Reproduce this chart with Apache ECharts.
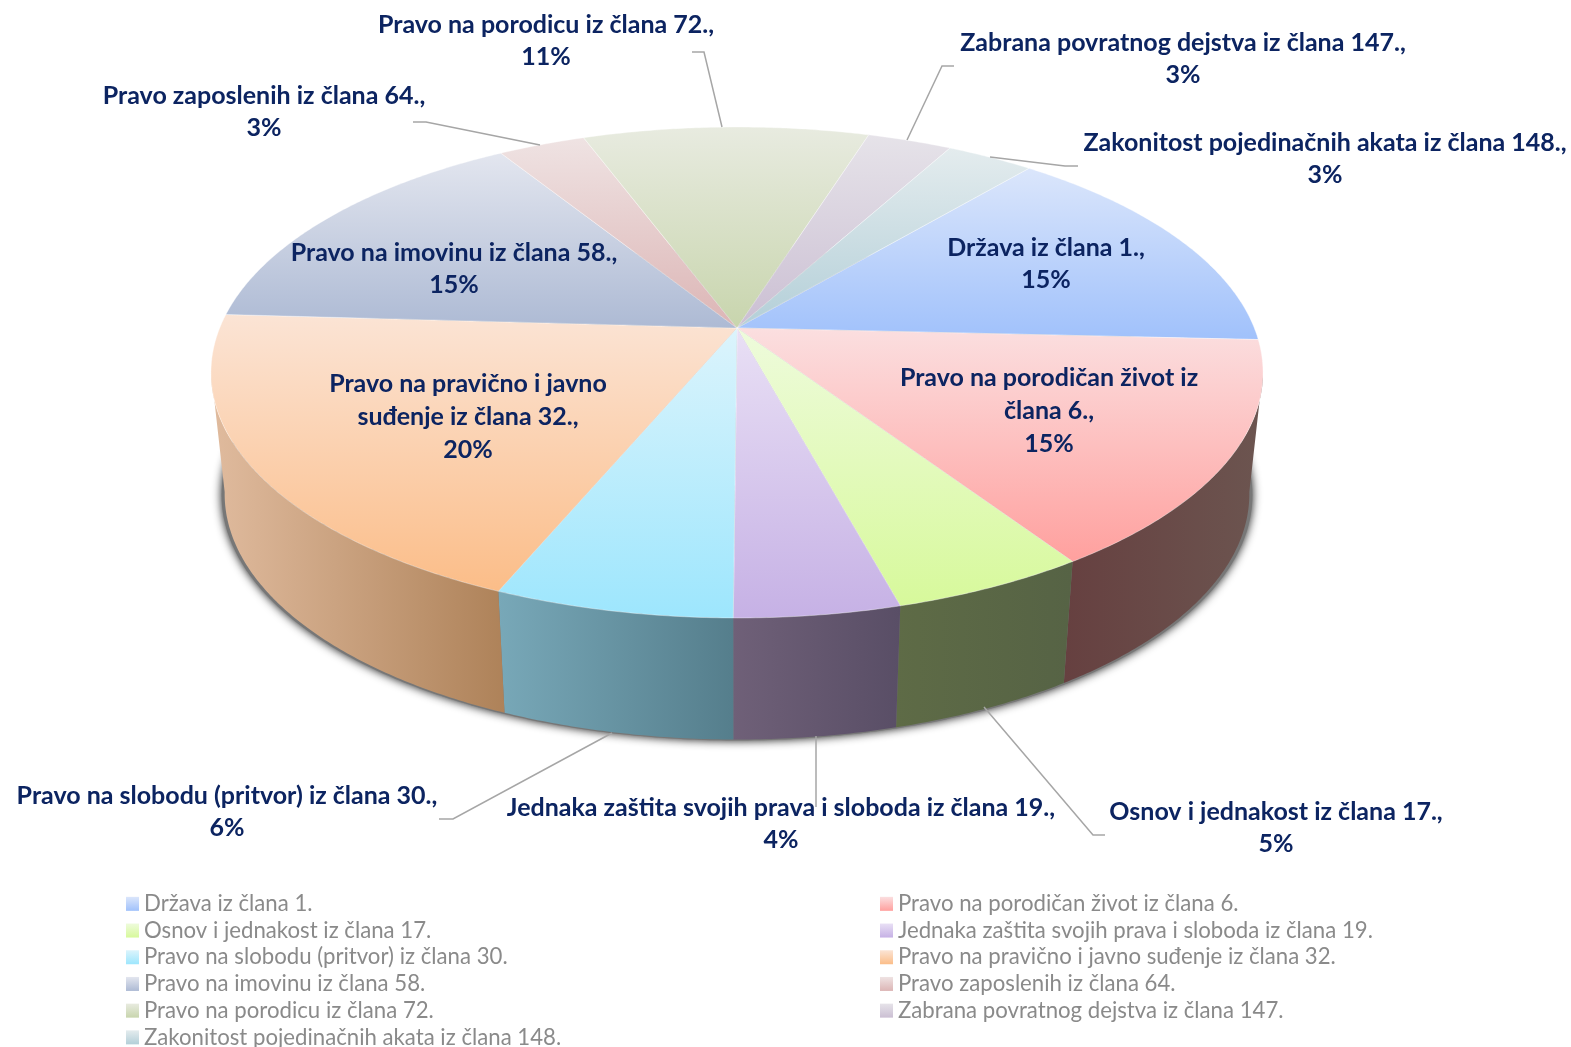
<!DOCTYPE html>
<html>
<head>
<meta charset="utf-8">
<title>Pita</title>
<script src="https://cdn.jsdelivr.net/npm/echarts@6/dist/echarts.min.js"></script>
<style>
  html, body { margin: 0; padding: 0; background: #fff; }
  #chart { width: 1571px; height: 1047px; }
</style>
</head>
<body>
<div id="chart"></div>
<script>
// podaci
const categories = [
  'Država iz člana 1.',
  'Pravo na porodičan život iz člana 6.',
  'Osnov i jednakost iz člana 17.',
  'Jednaka zaštita svojih prava i sloboda iz člana 19.',
  'Pravo na slobodu (pritvor) iz člana 30.',
  'Pravo na pravično i javno suđenje iz člana 32.',
  'Pravo na imovinu iz člana 58.',
  'Pravo zaposlenih iz člana 64.',
  'Pravo na porodicu iz člana 72.',
  'Zabrana povratnog dejstva iz člana 147.',
  'Zakonitost pojedinačnih akata iz člana 148.'
];
// ocitano sa slike, natpisi su zaokruzeni na cele procente
const values = [14.7, 15.0, 5.1, 4.3, 6.2, 19.7, 15.3, 3.2, 10.5, 3.1, 3.2];

// boje
const topLight = ['#dbe6fb', '#fbdfe0', '#eefbdc', '#e9e0f5', '#dcf4fc', '#fbe4d5', '#e3e6ef', '#efe3e3', '#e8ebe0', '#e6e3e9', '#e4ecee'];
const topDeep = ['#a0c1fb', '#ffa09e', '#d7f99b', '#c6b1e5', '#9de6fd', '#fbbd88', '#adbad4', '#dcb5b5', '#c8d5ad', '#cbbfd3', '#b3cfd8'];
const wallLeft = ['#50607d', '#664040', '#5e6b46', '#6f6078', '#78a8b8', '#e0bb9e', '#5a5f6a', '#6e5a5a', '#646a56', '#665f69', '#59676c'];
const wallRight = ['#50607d', '#6c5550', '#566345', '#594e66', '#557e8c', '#ae8259', '#5a5f6a', '#6e5a5a', '#646a56', '#665f69', '#59676c'];

// natpisi: prelomi redova, centar bloka, linije
const labelLines = [
  ['Država iz člana 1.,'],
  ['Pravo na porodičan život iz', 'člana 6.,'],
  ['Osnov i jednakost iz člana 17.,'],
  ['Jednaka zaštita svojih prava i sloboda iz člana 19.,'],
  ['Pravo na slobodu (pritvor) iz člana 30.,'],
  ['Pravo na pravično i javno', 'suđenje iz člana 32.,'],
  ['Pravo na imovinu iz člana 58.,'],
  ['Pravo zaposlenih iz člana 64.,'],
  ['Pravo na porodicu iz člana 72.,'],
  ['Zabrana povratnog dejstva iz člana 147.,'],
  ['Zakonitost pojedinačnih akata iz člana 148.,']
];
const labelCenters = [
  [1046, 264], [1049, 411], [1276, 828], [781, 824], [227, 812], [468, 417],
  [454, 269], [264, 112], [546, 41], [1183, 59], [1325, 159]
];
const leaders = [
  null, null,
  [[1105, 835], [1093, 835], [984, 707]],
  [[816, 807], [816, 736]],
  [[439, 819], [453, 819], [612, 733]],
  null, null,
  [[413, 122], [426, 122], [540, 145]],
  [[692, 52], [704, 52], [722, 127]],
  [[954, 66], [942, 66], [907, 140]],
  [[1078, 166], [1065, 166], [990, 157]]
];

// pita u perspektivi
const cx = 737, cy = 328;
const persp = 0.1813, scaleX = 517.3, scaleY = 237.4;
const firstAngle = 40;
const depth = 121.5, bottomShrink = 0.974;
// deo omotaca koji se vidi spreda
const wallFrom = 100, wallTo = 260;

function topPoint(deg) {
  const a = deg * Math.PI / 180;
  const u = Math.sin(a), v = Math.cos(a);
  const w = 1 + persp * v;
  return [cx + scaleX * u / w, cy - scaleY * v / w];
}

function bottomPoint(deg) {
  const p = topPoint(deg);
  return [cx + (p[0] - cx) * bottomShrink, p[1] + depth];
}

function arc(fn, from, to) {
  const pts = [];
  const n = Math.max(2, Math.ceil((to - from) * 2));
  for (let i = 0; i <= n; i++) {
    pts.push(fn(from + (to - from) * i / n));
  }
  return pts;
}

function vertical(a, b) {
  return { type: 'linear', x: 0, y: 0, x2: 0, y2: 1, colorStops: [{ offset: 0, color: a }, { offset: 1, color: b }] };
}

function horizontal(a, b) {
  return { type: 'linear', x: 0, y: 0, x2: 1, y2: 0, colorStops: [{ offset: 0, color: a }, { offset: 1, color: b }] };
}

const total = values.reduce((s, v) => s + v, 0);

function sliceRenderer(idx) {
  return function (params, api) {
    const val = api.value(0);
    let before = 0;
    for (let i = 0; i < idx; i++) before += values[i];
    const from = firstAngle + before / total * 360;
    const to = from + val / total * 360;
    const children = [];

    if (idx === 0) {
      // senka ispod donje ivice
      const shadow = arc(bottomPoint, 0, 360).map(p => [cx + (p[0] - cx) * 1.006, p[1] + 1]);
      children.push({
        type: 'polygon',
        z2: 1,
        shape: { points: shadow },
        style: { fill: '#777777', shadowBlur: 10, shadowColor: 'rgba(0,0,0,0.9)' }
      });
    }

    const wallA = Math.max(from, wallFrom), wallB = Math.min(to, wallTo);
    if (wallB > wallA) {
      children.push({
        type: 'polygon',
        z2: 2,
        shape: { points: arc(topPoint, wallA, wallB).concat(arc(bottomPoint, wallA, wallB).reverse()) },
        style: { fill: horizontal(wallLeft[idx], wallRight[idx]) }
      });
    }

    children.push({
      type: 'polygon',
      z2: 3,
      shape: { points: [[cx, cy]].concat(arc(topPoint, from, to)) },
      style: { fill: vertical(topLight[idx], topDeep[idx]), stroke: 'rgba(255,255,255,0.35)', lineWidth: 1 }
    });

    if (leaders[idx]) {
      children.push({
        type: 'polyline',
        z2: 4,
        shape: { points: leaders[idx] },
        style: { fill: null, stroke: '#a6a6a6', lineWidth: 1.5 }
      });
    }

    children.push({
      type: 'text',
      z2: 5,
      style: {
        text: labelLines[idx].concat(Math.round(val) + '%').join('\n'),
        x: labelCenters[idx][0],
        y: labelCenters[idx][1],
        align: 'center',
        verticalAlign: 'middle',
        fontFamily: 'Lato',
        fontWeight: 'bold',
        fontSize: 25,
        lineHeight: 32.8,
        fill: '#0c2461'
      }
    });

    return { type: 'group', children: children };
  };
}

function legendColumn(start, left) {
  const data = [];
  for (let i = start; i < categories.length; i += 2) {
    data.push({ name: categories[i], itemStyle: { color: vertical(topLight[i], topDeep[i]) } });
  }
  return {
    orient: 'vertical',
    left: left,
    top: 892,
    height: 220,
    data: data,
    selectedMode: false,
    icon: 'rect',
    itemWidth: 13,
    itemHeight: 14,
    itemGap: 3,
    padding: 0,
    textStyle: { fontFamily: 'Lato', fontSize: 22.2, color: '#8a8a8a', lineHeight: 23.7 }
  };
}

const chart = echarts.init(document.getElementById('chart'), null, { renderer: 'canvas' });

chart.setOption({
  backgroundColor: '#ffffff',
  animation: false,
  legend: [legendColumn(0, 126), legendColumn(1, 880)],
  series: categories.map((name, i) => ({
    type: 'custom',
    name: name,
    coordinateSystem: 'none',
    silent: true,
    clip: false,
    renderItem: sliceRenderer(i),
    data: [[values[i]]]
  }))
});
</script>
</body>
</html>
